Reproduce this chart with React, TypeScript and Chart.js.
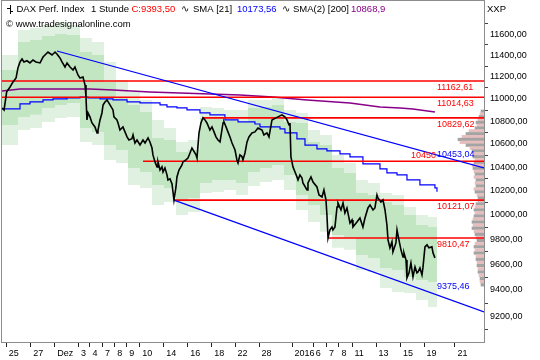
import React, { useEffect, useRef } from 'react';
import { Chart, registerables } from 'chart.js';

Chart.register(...registerables);

// ---- axes ----
const X_MIN = 0;
const X_MAX = 40.17; // trading days from chart start
const Y_MIN = 9006;
const Y_MAX = 11922;
const Y_TICKS = [9200, 9400, 9600, 9800, 10000, 10200, 10400, 10600, 10800, 11000, 11200, 11400, 11600];
const X_TICK_POS = [0.35, 2.4, 4.4, 6.38, 7.33, 8.38, 9.39, 10.39, 11.48, 13.47, 15.48, 17.48, 19.42, 21.42, 24.17, 25.95, 27.04, 28.08, 29.17, 31.17, 33.21, 35.17, 37.75];
const X_TICK_LABELS = ['25', '27', 'Dez', '3', '4', '7', '8', '9', '10', '14', '16', '18', '22', '28', '2016', '6', '7', '8', '11', '13', '15', '19', '21'];

// ---- price (hourly closes, DAX) ----
const PRICE_T = [0, 0.17, 0.39, 0.67, 0.92, 1.17, 1.33, 1.5, 1.67, 1.83, 2.08, 2.33, 2.58, 2.83, 3.17, 3.42, 3.75, 3.83, 4.17, 4.42, 4.58, 4.83, 5.0, 5.25, 5.42, 5.67, 5.92, 6.08, 6.33, 6.5, 6.75, 6.92, 7.0, 7.08, 7.17, 7.33, 7.5, 7.75, 7.92, 8.0, 8.17, 8.33, 8.42, 8.58, 8.75, 9.0, 9.25, 9.33, 9.58, 9.67, 9.83, 10.08, 10.25, 10.42, 10.58, 10.83, 10.92, 11.08, 11.25, 11.5, 11.75, 11.92, 12.17, 12.33, 12.5, 12.58, 12.75, 12.92, 13.0, 13.17, 13.33, 13.42, 13.58, 13.75, 13.83, 14.0, 14.17, 14.33, 14.5, 14.58, 14.75, 15.0, 15.08, 15.33, 15.5, 15.67, 15.83, 16.17, 16.25, 16.42, 16.58, 16.75, 16.92, 17.08, 17.33, 17.5, 17.67, 17.83, 18.0, 18.17, 18.42, 18.5, 18.67, 18.83, 19.0, 19.17, 19.42, 19.58, 19.67, 19.83, 20.0, 20.08, 20.25, 20.42, 20.58, 20.83, 21.08, 21.33, 21.67, 21.83, 22.08, 22.25, 22.5, 22.75, 23.0, 23.33, 23.58, 23.75, 23.92, 24.0, 24.08, 24.25, 24.42, 24.58, 24.67, 24.83, 25.0, 25.08, 25.42, 25.5, 25.75, 25.92, 26.25, 26.42, 26.67, 26.83, 27.0, 27.08, 27.17, 27.33, 27.5, 27.58, 27.75, 27.92, 28.0, 28.25, 28.42, 28.58, 28.75, 29.0, 29.17, 29.25, 29.58, 29.83, 30.08, 30.25, 30.5, 30.67, 30.92, 31.08, 31.25, 31.33, 31.58, 31.75, 31.92, 32.08, 32.17, 32.33, 32.5, 32.58, 32.83, 32.92, 33.08, 33.25, 33.42, 33.5, 33.67, 33.75, 33.92, 34.08, 34.25, 34.42, 34.58, 34.67, 34.83, 35.0, 35.08, 35.25, 35.42, 35.58, 35.83, 35.92, 36.08];
const PRICE_V = [10918, 10900, 11063, 11108, 11154, 11190, 11283, 11339, 11367, 11339, 11350, 11330, 11357, 11339, 11330, 11385, 11423, 11432, 11404, 11432, 11414, 11376, 11339, 11292, 11330, 11292, 11264, 11292, 11218, 11190, 11200, 11126, 11017, 10811, 10873, 10838, 10784, 10749, 10696, 10722, 10811, 10873, 10945, 10972, 10990, 10945, 10900, 10838, 10811, 10784, 10722, 10749, 10705, 10661, 10634, 10645, 10678, 10608, 10634, 10590, 10634, 10608, 10652, 10617, 10564, 10504, 10444, 10401, 10444, 10375, 10401, 10358, 10392, 10333, 10290, 10300, 10256, 10121, 10231, 10316, 10375, 10418, 10444, 10461, 10478, 10521, 10564, 10504, 10478, 10696, 10784, 10830, 10811, 10784, 10722, 10749, 10705, 10661, 10634, 10617, 10784, 10793, 10749, 10705, 10661, 10608, 10547, 10461, 10435, 10504, 10490, 10461, 10521, 10617, 10661, 10696, 10705, 10740, 10722, 10678, 10696, 10661, 10811, 10825, 10838, 10856, 10838, 10811, 10767, 10784, 10487, 10401, 10358, 10316, 10290, 10333, 10307, 10265, 10206, 10265, 10316, 10273, 10231, 10164, 10147, 10206, 10122, 9998, 9810, 9876, 9900, 9876, 9900, 10064, 10097, 10039, 10097, 10014, 10056, 9933, 9957, 9900, 9941, 9973, 9900, 9973, 10056, 10081, 10039, 10056, 10164, 10139, 10105, 10122, 10039, 9916, 9795, 9731, 9779, 9699, 9771, 9876, 9795, 9715, 9659, 9691, 9635, 9494, 9533, 9611, 9501, 9580, 9533, 9540, 9572, 9517, 9572, 9739, 9755, 9731, 9739, 9691, 9651];

// ---- moving averages ----
const SMA21_T = [0, 1.5, 2.33, 3.42, 4.25, 5.42, 6.5, 7.17, 8.17, 9.25, 10.42, 11.5, 13.17, 13.75, 14.58, 15.42, 16.5, 17.33, 18.58, 19.67, 21.08, 21.5, 23.17, 23.58, 24.58, 25.25, 26.25, 27.08, 28.17, 29.0, 30.08, 31.5, 32.08, 32.92, 33.75, 34.83, 36.08, 36.25];
const SMA21_V = [10909, 10954, 10972, 10990, 10999, 11008, 11017, 11008, 10999, 10990, 10972, 10963, 10945, 10927, 10918, 10900, 10873, 10856, 10811, 10793, 10775, 10749, 10731, 10696, 10643, 10590, 10556, 10539, 10513, 10487, 10427, 10384, 10350, 10333, 10290, 10248, 10223, 10190];
const SMA200_T = [0, 1.5, 7.33, 9.25, 12.33, 14.83, 17.33, 19.83, 22.58, 25.42, 29.0, 31.5, 33.17, 34.25, 36.08];
const SMA200_V = [11072, 11090, 11090, 11081, 11063, 11054, 11045, 11035, 11017, 10990, 10963, 10927, 10918, 10909, 10882];

// ---- daily band ----
const BAND_T = [0, 1.33, 2.33, 3.33, 4.42, 5.42, 6.5, 7.5, 8.5, 9.5, 10.5, 11.5, 12.5, 13.5, 14.5, 15.5, 16.5, 17.5, 18.5, 19.5, 20.5, 21.5, 22.5, 23.5, 24.5, 25.5, 26.5, 27.5, 28.5, 29.5, 30.5, 31.5, 32.5, 33.5, 34.5, 35.5, 36.25];
const BAND_OUTER_TOP = [11404, 11641, 11660, 11689, 11717, 11689, 11565, 11527, 11339, 11172, 11063, 10990, 10811, 10740, 10617, 10634, 10927, 10918, 10900, 10900, 10990, 10990, 11008, 10900, 10873, 10722, 10678, 10504, 10435, 10290, 10265, 10181, 10164, 10064, 9998, 9982, 9982];
const BAND_INNER_TOP = [11264, 11527, 11546, 11584, 11603, 11593, 11432, 11404, 11154, 11008, 10945, 10882, 10652, 10634, 10530, 10547, 10829, 10829, 10811, 10793, 10918, 10927, 10945, 10793, 10784, 10617, 10590, 10392, 10350, 10181, 10164, 10105, 10081, 9998, 9916, 9900, 9900];
const BAND_INNER_BOTTOM = [10767, 10838, 10856, 10918, 10945, 10963, 10740, 10705, 10590, 10547, 10392, 10358, 10248, 10223, 10122, 10139, 10265, 10290, 10290, 10265, 10358, 10392, 10418, 10333, 10164, 10081, 9998, 9835, 9811, 9675, 9651, 9572, 9556, 9501, 9478, 9462, 9462];
const BAND_OUTER_BOTTOM = [10590, 10722, 10740, 10793, 10829, 10838, 10617, 10590, 10461, 10435, 10248, 10223, 10081, 10105, 9998, 10023, 10181, 10189, 10206, 10164, 10240, 10273, 10290, 10206, 10039, 9941, 9860, 9731, 9715, 9556, 9540, 9416, 9385, 9377, 9323, 9270, 9270];

// ---- horizontal levels ----
const LEVELS = [11162.61, 11014.63, 10829.62, 10450, 10121.07, 9810.47];
const LEVEL_START = [0, 0, 16.75, 11.75, 14.33, 27.17];
const LEVEL_LABELS = ['11162,61', '11014,63', '10829,62', '10450', '10121,07', '9810,47'];

// ---- trend channel ----
const TREND_UP_T = [4.58, 40.17];
const TREND_UP_V = [11442, 10392];
const TREND_LOW_T = [14.33, 40.17];
const TREND_LOW_V = [10121, 9232];
const TREND_LABEL_V = [10453.04, 9375.46];
const TREND_LABELS = ['10453,04', '9375,46'];
const LABEL_T = 36.25;

// ---- volume profile ----
const PROFILE_LEVELS = [10900, 10875, 10850, 10825, 10800, 10775, 10750, 10725, 10700, 10675, 10650, 10625, 10600, 10575, 10550, 10525, 10500, 10475, 10450, 10425, 10400, 10375, 10350, 10325, 10300, 10275, 10250, 10225, 10200, 10175, 10150, 10125, 10100, 10075, 10050, 10025, 10000, 9975, 9950, 9925, 9900, 9875, 9850, 9825, 9800, 9775, 9750, 9725, 9700, 9675, 9650, 9625, 9600, 9575, 9550, 9525, 9500, 9475, 9450];
const PROFILE_VOL = [6, 8, 10, 12, 16, 14, 18, 30, 36, 44, 52, 48, 36, 28, 24, 20, 22, 18, 20, 24, 22, 20, 18, 20, 16, 18, 16, 20, 18, 14, 12, 12, 16, 18, 20, 18, 20, 22, 24, 22, 24, 20, 18, 16, 14, 18, 20, 18, 20, 16, 16, 14, 14, 12, 12, 10, 8, 8, 6];
const PROFILE_MAX = 964;

const HEADER = [
  { t: 'DAX Perf. Index', x: 16.5, c: '#000000' },
  { t: '1 Stunde', x: 91, c: '#000000' },
  { t: 'C:9393,50', x: 131.5, c: '#ff0000' },
  { t: '\u223F', x: 181, c: '#000000' },
  { t: 'SMA [21]', x: 193, c: '#000000' },
  { t: '10173,56', x: 237, c: '#0000ff' },
  { t: '\u223F', x: 282, c: '#000000' },
  { t: 'SMA(2) [200]', x: 293, c: '#000000' },
  { t: '10868,9', x: 351, c: '#880088' },
];

const FONT = '"Liberation Sans", Arial, sans-serif';
const LIGHT = '#e1f1e1';
const MEDIUM = '#c1e6c1';

const fmt = (v: number) => v.toFixed(2).replace('.', ',');

const overlay = {
  id: 'overlay',
  afterDraw(chart: any) {
    const { ctx, chartArea: a, scales } = chart;
    const xs = scales.x;
    const ys = scales.y;
    ctx.save();
    ctx.strokeStyle = '#8c8c8c';
    ctx.lineWidth = 1;
    ctx.strokeRect(Math.round(a.left) - 0.5, Math.round(a.top) - 0.5, Math.round(a.right - a.left) + 1, Math.round(a.bottom - a.top) + 1);

    ctx.font = `9px ${FONT}`;
    const lx = xs.getPixelForValue(LABEL_T);
    LEVELS.forEach((v, i) => {
      const y = ys.getPixelForValue(v);
      ctx.fillStyle = '#ff0000';
      if (LEVEL_LABELS[i].indexOf(',') < 0) {
        ctx.textAlign = 'right';
        ctx.textBaseline = 'bottom';
        ctx.fillText(LEVEL_LABELS[i], lx - 1, y - 1);
      } else {
        ctx.textAlign = 'left';
        ctx.textBaseline = 'top';
        ctx.fillText(LEVEL_LABELS[i], lx, y + 2);
      }
    });
    TREND_LABELS.forEach((s, i) => {
      const y = ys.getPixelForValue(TREND_LABEL_V[i]);
      ctx.fillStyle = '#0000ff';
      ctx.textAlign = 'left';
      ctx.textBaseline = 'bottom';
      ctx.fillText(s, lx, y - 2);
    });

    ctx.font = `9.5px ${FONT}`;
    ctx.textBaseline = 'middle';
    ctx.textAlign = 'left';
    HEADER.forEach((h) => {
      ctx.fillStyle = h.c;
      ctx.fillText(h.t, h.x, 9.5);
    });
    ctx.fillStyle = '#000';
    ctx.fillText('\u00A9 www.tradesignalonline.com', 6, 24.5);
    ctx.fillText('XXP', 487, 9.5);
    ctx.strokeStyle = '#000';
    ctx.beginPath();
    ctx.moveTo(10.5, 5); ctx.lineTo(10.5, 14);
    ctx.moveTo(7, 8.5); ctx.lineTo(10.5, 8.5);
    ctx.moveTo(10.5, 11.5); ctx.lineTo(13, 11.5);
    ctx.stroke();
    ctx.restore();
  },
};

export default function App() {
  const ref = useRef<HTMLCanvasElement>(null);
  useEffect(() => {
    document.body.style.margin = '0';
    const canvas = ref.current!;
    const pts = (t: number[], v: number[]) => t.map((x, i) => ({ x, y: v[i] }));
    const line = (label: string, data: any[], color: string, width: number, extra: any = {}) => ({
      type: 'line', label, data, borderColor: color, borderWidth: width, pointRadius: 0,
      fill: false, tension: 0, xAxisID: 'x', yAxisID: 'y', ...extra,
    });
    const datasets: any[] = [];
    datasets.push(line('DAX', pts(PRICE_T, PRICE_V), '#000000', 1.6, { order: 0 }));
    datasets.push(line('Trend oben', pts(TREND_UP_T, TREND_UP_V), '#0000ff', 1.2, { order: 1 }));
    datasets.push(line('Trend unten', pts(TREND_LOW_T, TREND_LOW_V), '#0000ff', 1.2, { order: 1 }));
    LEVELS.forEach((v, i) => {
      datasets.push(line('Level', [{ x: LEVEL_START[i], y: v }, { x: X_MAX, y: v }], '#ff0000', 1.6, { order: 2 }));
    });
    datasets.push(line('SMA [21]', pts(SMA21_T, SMA21_V), '#0000ff', 1.2, { stepped: true, order: 3 }));
    datasets.push(line('SMA(2) [200]', pts(SMA200_T, SMA200_V), '#880088', 1.5, { order: 3 }));
    datasets.push({
      type: 'bar', label: 'Profil', indexAxis: 'y', xAxisID: 'x2', yAxisID: 'y',
      data: PROFILE_LEVELS.map((y, i) => ({ x: PROFILE_VOL[i], y })),
      backgroundColor: PROFILE_LEVELS.map((_, i) => (i % 2 ? '#e6bebe' : '#a4a4a4')),
      borderWidth: 0, barThickness: 2.6, order: 4,
    });
    datasets.push(line('b1', pts(BAND_T, BAND_OUTER_TOP), 'rgba(0,0,0,0)', 0, { stepped: true, fill: '+1', backgroundColor: LIGHT, order: 10 }));
    datasets.push(line('b2', pts(BAND_T, BAND_INNER_TOP), 'rgba(0,0,0,0)', 0, { stepped: true, fill: '+1', backgroundColor: MEDIUM, order: 10 }));
    datasets.push(line('b3', pts(BAND_T, BAND_INNER_BOTTOM), 'rgba(0,0,0,0)', 0, { stepped: true, fill: '+1', backgroundColor: LIGHT, order: 10 }));
    datasets.push(line('b4', pts(BAND_T, BAND_OUTER_BOTTOM), 'rgba(0,0,0,0)', 0, { stepped: true, order: 10 }));

    const chart = new Chart(canvas, {
      type: 'line',
      data: { datasets },
      plugins: [overlay],
      options: {
        animation: false,
        responsive: false,
        devicePixelRatio: 1,
        layout: { padding: { left: 2, top: 1, right: 0, bottom: 0 } },
        plugins: { legend: { display: false }, tooltip: { enabled: false } },
        scales: {
          x: {
            type: 'linear', min: X_MIN, max: X_MAX, position: 'bottom',
            afterBuildTicks: (s: any) => { s.ticks = X_TICK_POS.map((value) => ({ value })); },
            afterFit: (s: any) => { s.height = 18; s.paddingLeft = 0; s.paddingRight = 0; },
            ticks: {
              autoSkip: false, maxRotation: 0, minRotation: 0, align: 'start', labelOffset: 2.5, padding: 1,
              color: '#000', font: { family: FONT, size: 9 },
              callback: (_v: any, i: number) => X_TICK_LABELS[i],
            },
            grid: { drawOnChartArea: false, drawTicks: true, tickLength: 5, color: '#222' },
            border: { display: true, color: '#8c8c8c' },
          },
          x2: {
            type: 'linear', min: 0, max: PROFILE_MAX, reverse: true, display: false,
          },
          y: {
            type: 'logarithmic', min: Y_MIN, max: Y_MAX, position: 'right',
            afterBuildTicks: (s: any) => { s.ticks = Y_TICKS.map((value) => ({ value })); },
            afterFit: (s: any) => { s.width = 56; s.paddingTop = 0; s.paddingBottom = 0; },
            ticks: {
              color: '#000', font: { family: FONT, size: 9 }, padding: 2,
              callback: (v: any) => fmt(Number(v)),
            },
            grid: { drawOnChartArea: false, drawTicks: true, tickLength: 4, color: '#444' },
            border: { display: true, color: '#8c8c8c' },
          },
        },
      } as any,
    } as any);
    return () => chart.destroy();
  }, []);
  return <canvas ref={ref} width={540} height={360} style={{ display: 'block', width: 540, height: 360 }} />;
}
